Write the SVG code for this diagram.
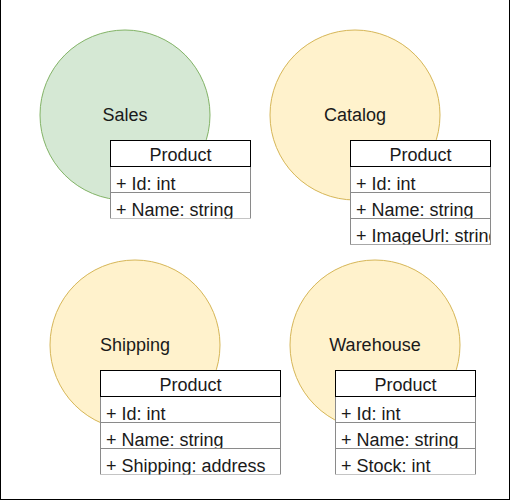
<svg xmlns="http://www.w3.org/2000/svg" width="511" height="501" viewBox="0 0 511 501">
<style>
  .frame{fill:#ffffff;stroke:#000000;stroke-width:1}
  .green{fill:#d5e8d4;stroke:#82b366;stroke-width:1}
  .yellow{fill:#fff2cc;stroke:#d6b656;stroke-width:1}
  .lbl{font-family:"Liberation Sans",Arial,sans-serif;font-size:18px;fill:#1a1a1a}
  .mid{text-anchor:middle}
  .hdr{fill:#ffffff;stroke:#000000;stroke-width:1}
  .row{fill:#ffffff;stroke:#8a8a8a;stroke-width:1}
</style>
<defs>
  <clipPath id="cSales"><rect x="110" y="140" width="141" height="78.5"/></clipPath>
  <clipPath id="cCatalog"><rect x="350" y="140" width="141" height="104.5"/></clipPath>
  <clipPath id="cShipping"><rect x="100" y="370" width="181" height="104.5"/></clipPath>
  <clipPath id="cWarehouse"><rect x="335" y="370" width="141" height="104.5"/></clipPath>
</defs>
<rect class="frame" x="0.5" y="-0.5" width="509" height="500"/>

<g id="sales">
  <circle class="green" cx="125" cy="115" r="85"/>
  <text class="lbl mid" x="125" y="121">Sales</text>
  <g id="sales-product" clip-path="url(#cSales)">
    <rect class="row" x="110.5" y="166.5" width="140" height="26"/>
    <text class="lbl" x="116" y="189.5">+ Id: int</text>
    <rect class="row" x="110.5" y="192.5" width="140" height="26"/>
    <text class="lbl" x="116" y="215.5">+ Name: string</text>
    <rect class="hdr" x="110.5" y="140.5" width="140" height="26"/>
    <text class="lbl mid" x="180.5" y="160.5">Product</text>
  </g>
</g>

<g id="catalog">
  <circle class="yellow" cx="355" cy="115" r="85"/>
  <text class="lbl mid" x="355" y="121">Catalog</text>
  <g id="catalog-product" clip-path="url(#cCatalog)">
    <rect class="row" x="350.5" y="166.5" width="140" height="26"/>
    <text class="lbl" x="356" y="189.5">+ Id: int</text>
    <rect class="row" x="350.5" y="192.5" width="140" height="26"/>
    <text class="lbl" x="356" y="215.5">+ Name: string</text>
    <rect class="row" x="350.5" y="218.5" width="140" height="26"/>
    <text class="lbl" x="356" y="241.5">+ ImageUrl: string</text>
    <rect x="350.5" y="166.5" width="140" height="78" fill="none" stroke="#8a8a8a"/>
    <rect class="hdr" x="350.5" y="140.5" width="140" height="26"/>
    <text class="lbl mid" x="420.5" y="160.5">Product</text>
  </g>
</g>

<g id="shipping">
  <circle class="yellow" cx="135" cy="345" r="85"/>
  <text class="lbl mid" x="135" y="351">Shipping</text>
  <g id="shipping-product" clip-path="url(#cShipping)">
    <rect class="row" x="100.5" y="396.5" width="180" height="26"/>
    <text class="lbl" x="106" y="419.5">+ Id: int</text>
    <rect class="row" x="100.5" y="422.5" width="180" height="26"/>
    <text class="lbl" x="106" y="445.5">+ Name: string</text>
    <rect class="row" x="100.5" y="448.5" width="180" height="26"/>
    <text class="lbl" x="106" y="471.5">+ Shipping: address</text>
    <rect class="hdr" x="100.5" y="370.5" width="180" height="26"/>
    <text class="lbl mid" x="190.5" y="390.5">Product</text>
  </g>
</g>

<g id="warehouse">
  <circle class="yellow" cx="375" cy="345" r="85"/>
  <text class="lbl mid" x="375" y="351">Warehouse</text>
  <g id="warehouse-product" clip-path="url(#cWarehouse)">
    <rect class="row" x="335.5" y="396.5" width="140" height="26"/>
    <text class="lbl" x="341" y="419.5">+ Id: int</text>
    <rect class="row" x="335.5" y="422.5" width="140" height="26"/>
    <text class="lbl" x="341" y="445.5">+ Name: string</text>
    <rect class="row" x="335.5" y="448.5" width="140" height="26"/>
    <text class="lbl" x="341" y="471.5">+ Stock: int</text>
    <rect class="hdr" x="335.5" y="370.5" width="140" height="26"/>
    <text class="lbl mid" x="405.5" y="390.5">Product</text>
  </g>
</g>
<g id="connectors"></g>
</svg>
